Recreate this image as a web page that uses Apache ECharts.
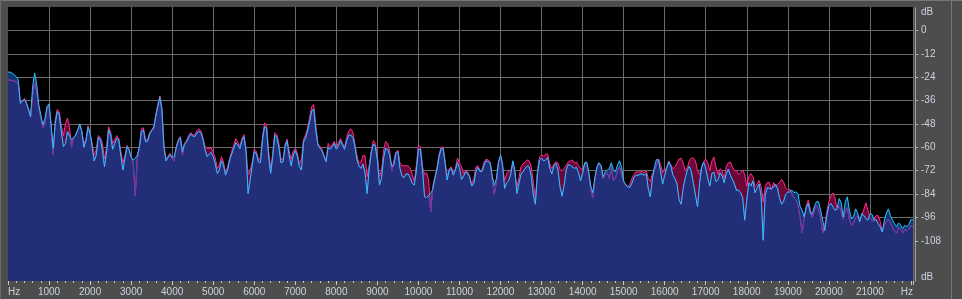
<!DOCTYPE html>
<html>
<head>
<meta charset="utf-8">
<title>Frequency Analysis</title>
<script src="https://cdn.jsdelivr.net/npm/echarts@6.0.0/dist/echarts.min.js"></script>
<style>
  html, body { margin: 0; padding: 0; background: #4d4d4d; }
  #chart { width: 962px; height: 299px; }
</style>
</head>
<body>
<div id="chart"></div>
<script>
// one value every 50 Hz, from 0 to 22050 Hz
const freqStep = 50;

// right channel (cyan)
const rightDb = [
  -21.4, -21.4, -21.9, -22.8, -23.7, -25.4, -37.4, -36.5, -35.3, -37.4, -40.8, -44.2, -28.8, -21.9, -27.9, -38.2, -43.4, -48.5, -45.1, -39.1,
  -37.7, -48.5, -60.5, -47.7, -41.7, -43.4, -52, -59.7, -58, -52, -54.2, -55.9, -55, -53.7, -51.1, -48, -52, -60, -56.6, -49.7,
  -52.8, -59.7, -67, -64, -54.9, -55.9, -61.4, -70, -63.1, -50.8, -53.7, -61, -58, -55.4, -56.2, -64.5, -71.7, -65.7, -59.7, -61.4,
  -64.8, -66.5, -65.7, -64, -60, -52, -51.1, -57.1, -57.1, -53.2, -51.4, -50.2, -44, -39.1, -34.3, -40.8, -60, -67, -65.2, -63.6,
  -65.2, -64.8, -60, -56.6, -55, -62.2, -58.3, -57.3, -54.9, -53.2, -54.2, -54.5, -52.8, -51.8, -52.5, -55.9, -61, -64.8, -63.6, -62.6,
  -64.8, -68.6, -73.4, -71.7, -66.9, -69.1, -74.3, -71.7, -66.5, -63.5, -60.5, -57.6, -58.8, -60.7, -56.6, -54.5, -62.2, -83.7, -76.8, -69.1,
  -62.2, -63.1, -67.4, -67.9, -56.2, -49.4, -50.2, -64.8, -73.4, -64.8, -53.7, -54.9, -60, -67.9, -67.4, -59.7, -56.6, -64, -69.6, -64,
  -61.7, -64.5, -70, -71.7, -57.3, -55.4, -51.4, -46.8, -41.2, -40.5, -51.1, -58.8, -60.4, -61.7, -64.8, -67.4, -60, -61, -59.7, -58,
  -61, -59.3, -56.6, -58.8, -61, -56.6, -53.8, -53.7, -54.9, -59.3, -66.2, -69.6, -70.8, -68.6, -73.4, -83.7, -70.8, -62.9, -58.3, -59.7,
  -66.5, -79.4, -76, -65.7, -60.5, -61, -64, -69.6, -69.1, -63.1, -62.2, -70.8, -74.8, -75.5, -73.7, -73.7, -75.6, -78.5, -79.4, -71.7,
  -61, -61, -71.7, -85.4, -85.8, -84.5, -83.7, -81.6, -76, -71.7, -65.2, -61, -60.5, -68.3, -76.8, -71.7, -70.8, -74.3, -71.7, -67.9,
  -70.5, -76.5, -74.8, -72.7, -73.4, -75.5, -79.9, -78.5, -72.5, -70.3, -72.5, -72.2, -69.1, -66.9, -67.4, -68.3, -74.8, -79.4, -76, -67.4,
  -64, -68.3, -81.1, -78.2, -77.2, -73.7, -66.9, -71.7, -83.7, -78.5, -73.7, -72.5, -71, -69.6, -70, -75.1, -84.5, -89.2, -73.4, -66.5,
  -65.5, -67, -66.5, -65.2, -70.8, -73.7, -69.6, -68.3, -71.7, -80.3, -85.1, -79.4, -71.7, -68.8, -69.3, -70, -70.8, -70.3, -73, -77.2,
  -73.4, -67.9, -67.5, -72.5, -79.9, -83.3, -75.1, -70, -67.9, -69.3, -75.1, -72.5, -71.7, -71, -67.9, -71.7, -72.5, -69.1, -66.9, -70.3,
  -77.2, -79.4, -80.3, -80.6, -78.5, -75.5, -74.3, -74.4, -73.7, -73.7, -74.3, -73.4, -81.1, -85.4, -76, -70, -66.2, -66.5, -72.5, -78.9,
  -74.3, -70.8, -67.4, -69.6, -74.3, -76, -78.9, -86.8, -89.2, -81.1, -76, -71.7, -69.6, -72.5, -78.5, -84.5, -90.6, -78.5, -70.3, -67.5,
  -70.8, -76, -79.9, -73.4, -72.7, -77.7, -76.8, -73, -74.6, -78.2, -73.4, -71.3, -74.3, -76.5, -78.9, -82, -82, -83.3, -85.8, -97.4,
  -87.1, -78.2, -79.9, -77.2, -83.3, -81.1, -78.8, -85.4, -107.7, -84.5, -80.6, -81.1, -81.1, -80.3, -78.9, -81.1, -86.3, -89.2, -87.5, -84,
  -83, -82.8, -81.9, -83.3, -82.8, -84, -90.5, -92.3, -95.7, -90.9, -88.8, -94, -94, -90.2, -87.8, -88, -92.3, -97.4, -102.6, -94.9,
  -90, -88.8, -90.5, -92.3, -91.4, -86.3, -88.5, -95.7, -88, -85.4, -92.3, -96.8, -95.7, -91.6, -93.6, -98.2, -94, -94.9, -96.6, -97.4,
  -94.3, -94.3, -97.4, -97.1, -99.2, -100.8, -103.4, -97.8, -93.7, -91.6, -94.9, -97.4, -99.2, -100.8, -98.8, -100, -101.7, -100, -100.8, -99.5,
  -97.1, -97.1,
];

// left channel (magenta)
const leftDb = [
  -25.5, -25.5, -25.8, -26, -26.5, -27, -36, -36, -35, -37, -40, -44.5, -33, -27, -31, -40, -45, -50, -48, -40,
  -38.5, -48, -64, -46, -40.5, -42, -49, -54, -48, -45, -50, -60, -55, -53.5, -51, -48, -52, -58, -56, -49,
  -52.5, -58, -64, -61, -54, -55, -58, -66, -60, -49.5, -52, -58, -56, -54, -55.5, -62, -68, -64, -59, -61,
  -65, -68, -85, -66, -60, -50.5, -50, -56, -56, -52.5, -51, -49.5, -43.5, -38, -33.6, -40, -59, -66, -64.5, -63,
  -66, -67, -59.5, -56, -54.5, -64, -58, -56.5, -54, -52.5, -53.5, -53.8, -51.5, -50.5, -51.5, -55, -59.5, -60.5, -60.5, -60.3,
  -62.5, -65.5, -70.8, -69, -64.8, -67.5, -73, -70, -65.5, -62, -59, -55.5, -57.5, -59.5, -55.5, -53.5, -61, -74, -72, -67.5,
  -61, -62, -66, -66, -55, -47.5, -48.5, -62, -71, -63, -52.5, -53.5, -58, -66, -66, -58.5, -55.8, -62, -66, -62,
  -60.5, -63, -68.5, -66, -56, -53.5, -50, -44.5, -39, -38, -49, -58, -59.5, -61, -64, -66.5, -58, -60, -58.5, -57,
  -60, -57.5, -55.5, -58, -60, -55, -51.5, -50.5, -52, -58, -64, -68, -68, -64, -64.5, -75, -69.5, -62, -56.5, -58,
  -64, -75, -72, -62, -57, -58, -62, -72, -67, -62.5, -61.5, -68, -69.5, -69.5, -69.5, -69.5, -70.5, -74, -77.5, -69,
  -58.8, -60, -70, -74, -73, -77, -93, -80, -75, -70.5, -64, -60, -59.8, -67, -75, -71, -70, -73, -71, -65.5,
  -68, -70, -73.5, -72, -72.5, -75, -79, -76, -70, -69.5, -72, -71.5, -67.5, -66, -66.5, -67.5, -77, -84, -78, -68,
  -64.5, -70, -77, -73.5, -72, -72, -68, -73, -80, -75.5, -70, -68.5, -67.5, -66.5, -67, -70, -78, -86, -72, -65,
  -64, -64.5, -63.5, -63.5, -68.5, -71, -68.5, -67.5, -68, -71.5, -72, -71, -69, -67.5, -67, -66.5, -68, -67.5, -69.5, -70.5,
  -72, -68.5, -68.5, -74, -82, -86, -76, -70.5, -68, -70, -76, -74, -73, -76, -70, -77, -76, -72, -70, -74,
  -78, -79, -80, -79, -76, -74, -72.5, -72.8, -72.5, -72.5, -73, -72, -76, -77.5, -73.5, -72, -69, -66, -69, -73,
  -72, -70, -67, -69, -71, -70, -68, -66, -65.5, -68, -72, -70.5, -67, -65.5, -65.5, -67, -72, -74, -70, -67.5,
  -66, -68, -72, -67, -65, -70, -74, -71, -72, -76, -70, -68, -67.5, -70, -72, -72, -74, -73, -71.5, -74,
  -80, -75, -73.5, -75, -80, -79, -77, -80, -88, -80, -78, -78, -82, -78, -80, -79, -78, -76.5, -78, -81,
  -82, -81.5, -84, -86, -87, -90, -96, -104, -96, -90, -87, -92, -96, -92, -90, -92, -96, -104, -100, -93,
  -88, -85, -83.5, -86, -92, -90, -93, -97, -93, -91, -97, -100, -99, -96, -95, -98, -95, -92, -88.5, -92,
  -96, -98, -97, -95, -95, -98, -103, -100, -98, -97, -99, -101, -103, -104, -101, -102, -104, -102, -103, -102,
  -100, -101,
];

// axis labels and grid positions
const xLabelValues = [0, 1000, 2000, 3000, 4000, 5000, 6000, 7000, 8000, 9000, 10000, 11000,
  12000, 13000, 14000, 15000, 16000, 17000, 18000, 19000, 20000, 21000, 22050];
const xGridValues = [1000, 2000, 3000, 4000, 5000, 6000, 7000, 8000, 9000, 10000, 11000,
  12000, 13000, 14000, 15000, 16000, 17000, 18000, 19000, 20000, 21000, 22050];
const yTickValues = [0, -12, -24, -36, -48, -60, -72, -84, -96, -108];
const yLabelValues = [9.4, 0, -12, -24, -36, -48, -60, -72, -84, -96, -108, -126.6];

const freqMax = 22050;
const dbMin = -128.6;
const dbMax = 12;

const toPairs = (arr) => arr.map((v, i) => [i * freqStep, v]);
// part shared by both channels
const bothDb = leftDb.map((v, i) => Math.min(v, rightDb[i]));

const labelColor = '#c8d2de';
const gridColor = '#6b6b6b';
const font = 'Liberation Sans';

const chart = echarts.init(document.getElementById('chart'));
chart.setOption({
  animation: false,
  backgroundColor: '#4d4d4d',
  grid: {
    left: 8,
    right: 49,
    top: 7,
    bottom: 18,
    show: true,
    backgroundColor: '#000',
    borderWidth: 0,
    outerBoundsMode: 'none',
  },
  xAxis: [
    {
      type: 'value',
      position: 'bottom',
      min: 0,
      max: freqMax,
      interval: 1000,
      axisLine: { show: false, onZero: false },
      axisTick: { show: true, length: 4, lineStyle: { color: '#c8c8c8' } },
      minorTick: { show: true, splitNumber: 5, length: 2, lineStyle: { color: '#c8c8c8' } },
      splitLine: { show: false },
      axisLabel: {
        customValues: xLabelValues,
        color: labelColor,
        fontFamily: font,
        fontSize: 10,
        margin: 6,
        alignMinLabel: 'left',
        alignMaxLabel: 'right',
        formatter: (v) => (v === 0 || v === freqMax ? 'Hz' : String(v)),
      },
    },
    {
      // only the vertical grid lines
      type: 'value',
      position: 'top',
      min: 0,
      max: freqMax,
      axisLine: { show: false, onZero: false },
      axisTick: { show: false, customValues: xGridValues },
      axisLabel: { show: false },
      splitLine: { show: true, lineStyle: { color: gridColor, width: 1 } },
    },
  ],
  yAxis: {
    type: 'value',
    position: 'right',
    min: dbMin,
    max: dbMax,
    offset: 2,
    axisLine: { show: true, onZero: false, lineStyle: { color: '#b4b4b4', type: 'dotted' } },
    axisTick: { show: true, length: 3, customValues: yTickValues, lineStyle: { color: '#b4b4b4' } },
    splitLine: { show: true, lineStyle: { color: gridColor, width: 1 } },
    axisLabel: {
      customValues: yLabelValues,
      color: labelColor,
      fontFamily: font,
      fontSize: 10,
      margin: 6,
      padding: [4, 0, 0, 0],
      formatter: (v) => (yTickValues.indexOf(v) >= 0 ? String(v) : 'dB'),
    },
  },
  graphic: [
    { type: 'line', shape: { x1: 0, y1: 0.5, x2: 962, y2: 0.5 }, style: { stroke: '#777' }, silent: true },
    { type: 'line', shape: { x1: 0.5, y1: 0, x2: 0.5, y2: 299 }, style: { stroke: '#6a6a6a' }, silent: true },
    { type: 'line', shape: { x1: 951.5, y1: 0, x2: 951.5, y2: 299 }, style: { stroke: '#777' }, silent: true },
  ],
  series: [
    {
      name: 'L',
      type: 'line',
      data: toPairs(leftDb),
      symbol: 'none',
      lineStyle: { color: '#ff2a8a', width: 1 },
      areaStyle: { color: '#6a083a', opacity: 1, origin: 'start' },
    },
    {
      name: 'R fill',
      type: 'line',
      data: toPairs(rightDb),
      symbol: 'none',
      lineStyle: { width: 0, opacity: 0 },
      areaStyle: { color: '#0c3a70', opacity: 1, origin: 'start' },
    },
    {
      name: 'L+R',
      type: 'line',
      data: toPairs(bothDb),
      symbol: 'none',
      lineStyle: { color: '#5a3cb0', width: 1 },
      areaStyle: { color: '#232e78', opacity: 1, origin: 'start' },
    },
    {
      name: 'R',
      type: 'line',
      data: toPairs(rightDb),
      symbol: 'none',
      lineStyle: { color: '#30c0ff', width: 1 },
    },
  ],
});
</script>
</body>
</html>
